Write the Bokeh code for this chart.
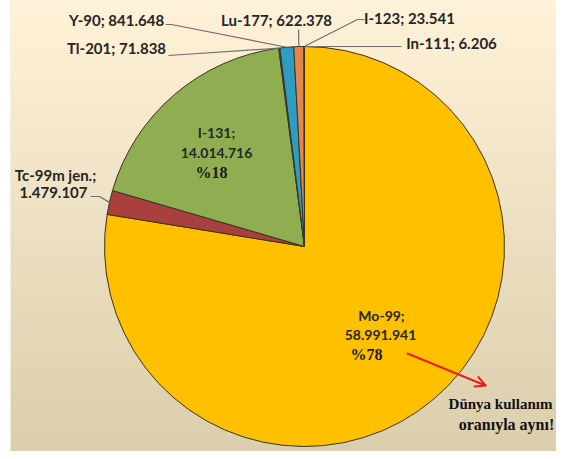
import math
import numpy as np
from bokeh.plotting import figure
from bokeh.models import Range1d, ColumnDataSource
from bokeh.core.properties import value
from bokeh.embed import file_html
from bokeh.resources import INLINE

# ---- data ----
isotopes = ["Mo-99", "Tc-99m jen.", "I-131", "Tl-201", "Y-90", "Lu-177", "I-123", "In-111"]
amounts = [58991941, 1479107, 14014716, 71838, 841648, 622378, 23541, 6206]
colors = ["#FFC000", "#A9403E", "#8FAE52", "#6A4E8C", "#2F9CC4", "#E2874A", "#C0504D", "#4BACC6"]
note_lines = ["Dünya kullanım", "oranıyla aynı!"]

# ---- layout ----
W, H = 556, 451
LEFT = 10
def X(sx):
    return sx
def Y(sy):
    return H - sy

CX, CY, R = X(304), Y(246), 200

total = sum(amounts)
fr = [a / total for a in amounts]
cum = np.concatenate([[0.0], np.cumsum(fr)])
starts = [math.pi / 2 - 2 * math.pi * c for c in cum[:-1]]
ends = [math.pi / 2 - 2 * math.pi * c for c in cum[1:]]
mids = [(s + e) / 2 for s, e in zip(starts, ends)]

def fmt(v):
    return f"{v:,}".replace(",", ".")

p = figure(width=W, height=H, x_range=Range1d(LEFT, W), y_range=Range1d(0, H),
           output_backend="svg", toolbar_location=None, min_border=0,
           min_border_left=LEFT, min_border_right=0, min_border_top=0, min_border_bottom=0,
           background_fill_color="#EFE6CC", border_fill_color="#ffffff")
p.axis.visible = False
p.grid.visible = False
p.outline_line_color = None

# background vertical gradient as bands
top_rgb = (255, 242, 216)
bot_rgb = (218, 206, 172)
nb = 60
band_b, band_t, band_c = [], [], []
for k in range(nb):
    t = (k + 0.5) / nb
    rgb = tuple(int(round(bot_rgb[j] + (top_rgb[j] - bot_rgb[j]) * t)) for j in range(3))
    band_b.append(float(H * k / nb))
    band_t.append(float(H * (k + 1) / nb) + 0.8)
    band_c.append("#%02x%02x%02x" % rgb)
bg = ColumnDataSource(dict(b=band_b, t=band_t, c=band_c))
p.quad(left=LEFT, right=W, bottom="b", top="t", fill_color="c", line_color=None, source=bg)

src = ColumnDataSource(dict(start=starts, end=ends, color=colors, name=isotopes))
p.wedge(x=CX, y=CY, radius=R, start_angle="start", end_angle="end", direction="clock",
        fill_color="color", line_color="#3A3420", line_width=1, source=src)

font = value("Lato")
tc = "#262626"

outside = {
    "Y-90": (116, 19, [(165, 24), (171, 24)]),
    "Tl-201": (116, 47, [(168, 55)]),
    "Lu-177": (276, 19, [(298, 29)]),
    "I-123": (409, 17, [(364, 19), (357, 19)]),
    "In-111": (451, 42, [(401, 46)]),
}
lx, ly, lt = [], [], []
xs, ys = [], []
for i, name in enumerate(isotopes):
    if name in outside:
        tx, ty, pts = outside[name]
        lx.append(X(tx)); ly.append(Y(ty)); lt.append(f"{name}; {fmt(amounts[i])}")
        ex = CX + R * math.cos(mids[i]); ey = CY + R * math.sin(mids[i])
        xs.append([X(a) for a, b in pts] + [ex]); ys.append([Y(b) for a, b in pts] + [ey])

i_tc = isotopes.index("Tc-99m jen.")
lx += [X(55), X(53)]; ly += [Y(174), Y(192)]
lt += [isotopes[i_tc] + ";", fmt(amounts[i_tc])]
xs.append([X(90), X(99), CX + R * math.cos(mids[i_tc])])
ys.append([Y(196), Y(196), CY + R * math.sin(mids[i_tc])])

p.multi_line(xs=xs, ys=ys, line_color="#707070", line_width=1.2)
p.text(x=lx, y=ly, text=lt, text_align="center", text_baseline="middle",
       text_font=font, text_font_style="bold", text_font_size="15px", text_color=tc)

inside = {"I-131": ((216, 132), (216, 152), (211, 172)),
          "Mo-99": ((381, 315), (380, 334), (366, 354))}
for name, (a, b, c) in inside.items():
    i = isotopes.index(name)
    p.text(x=[X(a[0]), X(b[0])], y=[Y(a[1]), Y(b[1])], text=[name + ";", fmt(amounts[i])],
           text_align="center", text_baseline="middle", text_font=font,
           text_font_style="bold", text_font_size="14px", text_color=tc)
    p.text(x=[X(c[0])], y=[Y(c[1])], text=[f"%{round(fr[i] * 100)}"],
           text_align="center", text_baseline="middle", text_font=value("Liberation Serif"),
           text_font_style="bold", text_font_size="16px", text_color="#1a1a1a")

# red arrow drawn with glyphs
x0, y0, x1, y1 = X(407), Y(353), X(485), Y(385)
ang = math.atan2(y1 - y0, x1 - x0)
hl, ha = 11, math.radians(28)
hx = [x1 - hl * math.cos(ang - ha), x1, x1 - hl * math.cos(ang + ha)]
hy = [y1 - hl * math.sin(ang - ha), y1, y1 - hl * math.sin(ang + ha)]
p.multi_line(xs=[[x0, x1], hx], ys=[[y0, y1], hy], line_color="#E8201C", line_width=2,
             line_cap="round", line_join="round")

p.text(x=[X(500)], y=[Y(403)], text=[note_lines[0]],
       text_align="center", text_baseline="middle", text_font=value("Liberation Serif"),
       text_font_style="bold", text_font_size="15px", text_color="#111111")
p.text(x=[X(506)], y=[Y(424)], text=[note_lines[1]],
       text_align="center", text_baseline="middle", text_font=value("Liberation Serif"),
       text_font_style="bold", text_font_size="16px", text_color="#111111")

open("out.html", "w").write(file_html(p, INLINE))
